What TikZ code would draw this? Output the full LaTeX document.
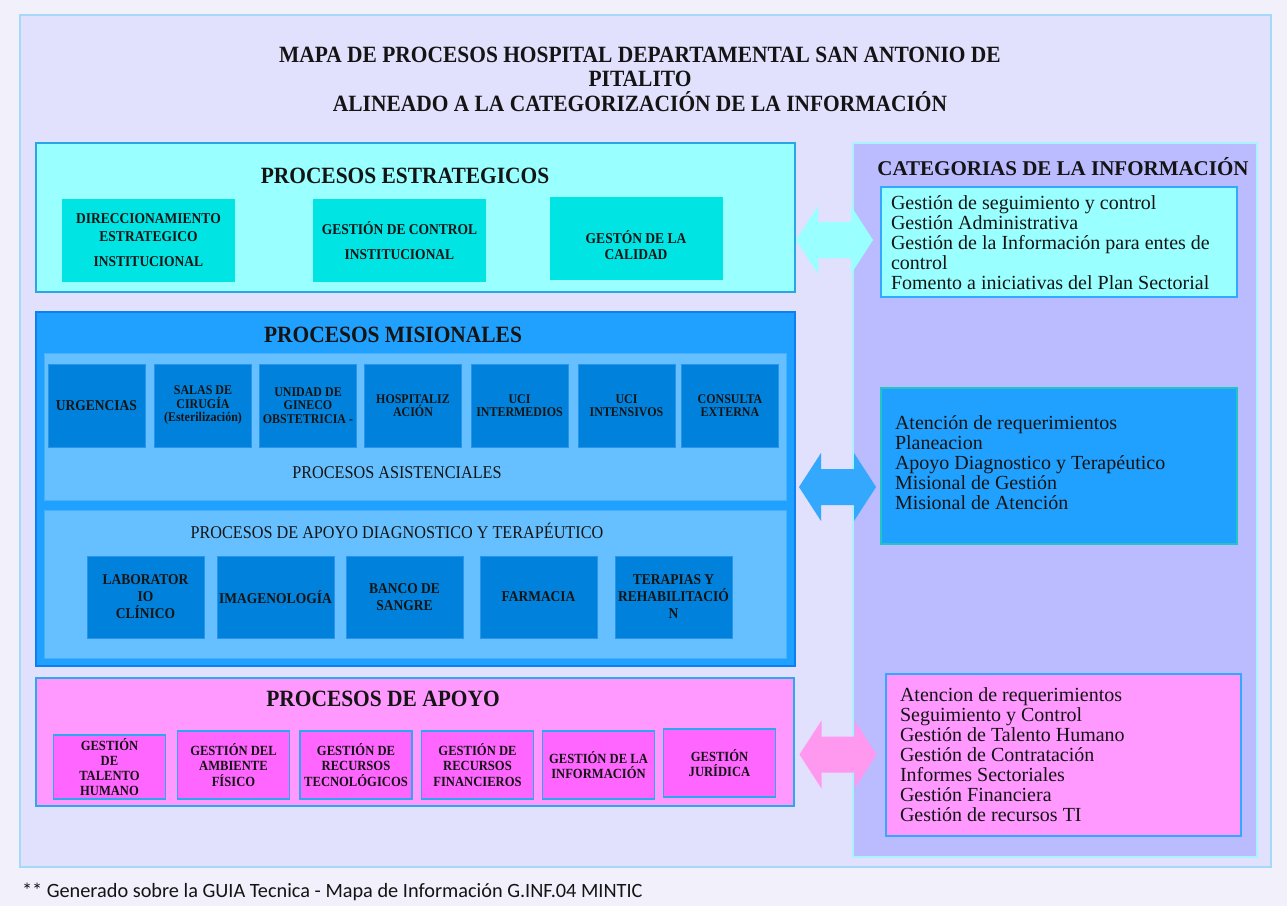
\documentclass[tikz,border=0pt]{standalone}
\usepackage{fontspec}
\setmainfont{Liberation Serif}
\newfontfamily\cnine[FakeStretch=0.9]{Liberation Serif}
\newfontfamily\ctitle[FakeStretch=0.92]{Liberation Serif}
\newfontfamily\footfont{Carlito}
\definecolor{pagebg}{HTML}{F1F0FB}
\definecolor{mainfill}{HTML}{E1E0FD}
\definecolor{mainline}{HTML}{A6D8F8}
\definecolor{stratfill}{HTML}{99FFFF}
\definecolor{stratline}{HTML}{2AA6E6}
\definecolor{stratbox}{HTML}{00E4E4}
\definecolor{misfill}{HTML}{21A1FF}
\definecolor{misline}{HTML}{0C80F0}
\definecolor{innerfill}{HTML}{66C0FF}
\definecolor{innerline}{HTML}{44B0FF}
\definecolor{mboxfill}{HTML}{0082DC}
\definecolor{mboxline}{HTML}{2A94EC}
\definecolor{apofill}{HTML}{FF99FF}
\definecolor{apobox}{HTML}{FF66FF}
\definecolor{apoline}{HTML}{2CA8EE}
\definecolor{catfill}{HTML}{BBBBFF}
\definecolor{catline}{HTML}{AAF2FF}
\definecolor{cattwoline}{HTML}{22C4C4}
\definecolor{arrcyan}{HTML}{99FFFF}
\definecolor{arrblue}{HTML}{33A8FC}
\definecolor{arrpink}{HTML}{FF99F0}
\definecolor{txt}{HTML}{141414}
\newcommand\dblarrow[2]{%
  \fill[#2] ([shift={(-38.5,0)}]#1) -- ([shift={(-16.5,-34)}]#1) -- ([shift={(-16.5,-18)}]#1)
   -- ([shift={(16.5,-18)}]#1) -- ([shift={(16.5,-34)}]#1) -- ([shift={(38.5,0)}]#1)
   -- ([shift={(16.5,34)}]#1) -- ([shift={(16.5,18)}]#1) -- ([shift={(-16.5,18)}]#1)
   -- ([shift={(-16.5,34)}]#1) -- cycle;}
\begin{document}
\begin{tikzpicture}[x=1pt,y=-1pt,
  every node/.style={inner sep=0pt, outer sep=0pt, text=txt},
  region/.style={rectangle, fill=#1},
  bigtitle/.style={font=\ctitle\bfseries\fontsize{23.3}{24.5}\selectfont, align=center},
  cattitle/.style={font=\bfseries\fontsize{21}{23}\selectfont},
  sublabel/.style={font=\cnine\fontsize{18}{20}\selectfont},
  sbox/.style={rectangle, fill=stratbox, minimum width=173, minimum height=83, align=center,
    font=\cnine\bfseries\fontsize{15}{18}\selectfont},
  mbox/.style={rectangle, fill=mboxfill, draw=mboxline, line width=0.8pt, minimum width=97,
    minimum height=83, align=center, font=\cnine\bfseries\fontsize{13.3}{13.5}\selectfont},
  dbox/.style={rectangle, fill=mboxfill, draw=mboxline, line width=0.8pt, minimum width=117,
    minimum height=82, align=center, font=\cnine\bfseries\fontsize{15}{17}\selectfont},
  abox/.style={rectangle, fill=apobox, draw=apoline, line width=1.8pt, minimum width=112,
    align=center, font=\cnine\bfseries\fontsize{14}{15.3}\selectfont},
  cbox/.style={rectangle, line width=1.5pt},
  ctext/.style={anchor=west, align=left, font=\fontsize{20}{20}\selectfont}
]
\useasboundingbox (0,0) rectangle (1287,906);
\fill[pagebg] (0,0) rectangle (1287,906);

% main frame
\node[region=mainfill, draw=mainline, line width=1.5pt, minimum width=1251, minimum height=852] (main) at (645.5,441) {};
\node[bigtitle] (title) at (640,79) {MAPA DE PROCESOS HOSPITAL DEPARTAMENTAL SAN ANTONIO DE\\PITALITO\\ALINEADO A LA CATEGORIZACIÓN DE LA INFORMACIÓN};

% strategic
\node[region=stratfill, draw=stratline, line width=1.5pt, minimum width=759, minimum height=149] (est) at (415.5,217.5) {};
\node[bigtitle] (esttitle) at (405,176) {PROCESOS ESTRATEGICOS};
\node[sbox] (e1) at (148.5,240.5) {DIRECCIONAMIENTO\\ESTRATEGICO\\[7pt]INSTITUCIONAL};
\node[sbox] (e2) at (399.5,240.5) {GESTIÓN DE CONTROL\\[7pt]INSTITUCIONAL};
\node[sbox] (e3) at (636,238.5) {};
\node[align=center, font=\cnine\bfseries\fontsize{15}{16}\selectfont] (e3t) at ([yshift=-7pt]e3.center) {GESTÓN DE LA\\CALIDAD};

% misionales
\node[region=misfill, draw=misline, line width=1.5pt, minimum width=759, minimum height=354] (mis) at (415.5,489) {};
\node[bigtitle] (mistitle) at (393,335) {PROCESOS MISIONALES};
\node[region=innerfill, draw=innerline, line width=1pt, minimum width=742, minimum height=147] (asis) at (415,426.5) {};
\node[mbox] (m1) at (96.5,405.5) {\fontsize{15}{15}\selectfont URGENCIAS};
\node[mbox] (m2) at (203,405.5) {SALAS DE\\CIRUGÍA\\(Esterilización)};
\node[mbox] (m3) at (308,405.5) {UNIDAD DE\\GINECO\\OBSTETRICIA -};
\node[mbox] (m4) at (413,405.5) {HOSPITALIZ\\ACIÓN};
\node[mbox] (m5) at (519.5,405.5) {UCI\\INTERMEDIOS};
\node[mbox] (m6) at (626.5,405.5) {UCI\\INTENSIVOS};
\node[mbox] (m7) at (730,405.5) {CONSULTA\\EXTERNA};
\node[sublabel] (asistitle) at (397,473) {PROCESOS ASISTENCIALES};
\node[region=innerfill, draw=innerline, line width=1pt, minimum width=742, minimum height=148] (diag) at (415,584) {};
\node[sublabel] (diagtitle) at (397,531) {PROCESOS DE APOYO DIAGNOSTICO Y TERAPÉUTICO};
\node[dbox] (d1) at (145.5,597) {LABORATOR\\IO\\CLÍNICO};
\node[dbox] (d2) at (275.5,597) {IMAGENOLOGÍA};
\node[dbox] (d3) at (404.5,597) {BANCO DE\\SANGRE};
\node[dbox] (d4) at (538.5,597) {FARMACIA};
\node[dbox] (d5) at (673.5,597) {TERAPIAS Y\\REHABILITACIÓ\\N};

% apoyo
\node[region=apofill, draw=apoline, line width=1.5pt, minimum width=758, minimum height=128] (apo) at (415,742) {};
\node[bigtitle] (apotitle) at (383,699) {PROCESOS DE APOYO};
\node[abox, minimum height=64] (a1) at (109.5,767) {GESTIÓN\\DE\\TALENTO\\HUMANO};
\node[abox, minimum height=68] (a2) at (233.5,765) {GESTIÓN DEL\\AMBIENTE\\FÍSICO};
\node[abox, minimum height=68] (a3) at (356,765) {GESTIÓN DE\\RECURSOS\\TECNOLÓGICOS};
\node[abox, minimum height=68] (a4) at (477.5,765) {GESTIÓN DE\\RECURSOS\\FINANCIEROS};
\node[abox, minimum height=68] (a5) at (598.5,765) {GESTIÓN DE LA\\INFORMACIÓN};
\node[abox, minimum height=68] (a6) at (719.5,763) {GESTIÓN\\JURÍDICA};

% categories panel
\node[region=catfill, draw=catline, line width=1.5pt, minimum width=404, minimum height=714] (cat) at (1055,500) {};
\node[cattitle] (cattitle) at (1063,167) {CATEGORIAS DE LA INFORMACIÓN};
\node[cbox, fill=stratfill, draw=arrblue, minimum width=356, minimum height=110] (c1) at (1059,242) {};
\node[ctext] (c1t) at ([xshift=10pt, yshift=-1pt]c1.west) {Gestión de seguimiento y control\\Gestión Administrativa\\Gestión de la Información para entes de\\control\\Fomento a iniciativas del Plan Sectorial};
\node[cbox, fill=misfill, draw=cattwoline, minimum width=356, minimum height=156] (c2) at (1059,466) {};
\node[ctext] (c2t) at ([xshift=14pt, yshift=3pt]c2.west) {Atención de requerimientos\\Planeacion\\Apoyo Diagnostico y Terapéutico\\Misional de Gestión\\Misional de Atención};
\node[cbox, fill=apofill, draw=arrblue, minimum width=355, minimum height=162] (c3) at (1063.5,755) {};
\node[ctext] (c3t) at ([xshift=14pt]c3.west) {Atencion de requerimientos\\Seguimiento y Control\\Gestión de Talento Humano\\Gestión de Contratación\\Informes Sectoriales\\Gestión Financiera\\Gestión de recursos TI};

% arrows
\coordinate (ar1) at (834.5,240);
\coordinate (ar2) at (837.5,487);
\coordinate (ar3) at (838,754.5);
\dblarrow{ar1}{arrcyan}
\dblarrow{ar2}{arrblue}
\dblarrow{ar3}{arrpink}

% footer
\node[anchor=base west, font=\footfont\fontsize{20.3}{21}\selectfont] (foot) at (22,897) {** Generado sobre la GUIA Tecnica - Mapa de Información G.INF.04 MINTIC};
\end{tikzpicture}
\end{document}
